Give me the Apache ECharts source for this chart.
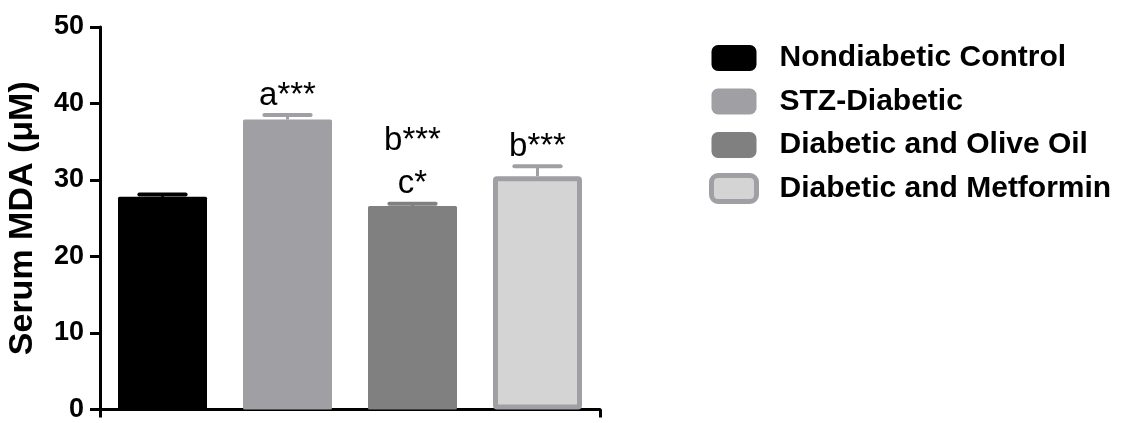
<!DOCTYPE html>
<html>
<head>
<meta charset="utf-8">
<script src="https://cdn.jsdelivr.net/npm/echarts@6/dist/echarts.min.js"></script>
<style>
  html, body { margin: 0; padding: 0; background: #ffffff; }
  #chart { width: 1124px; height: 423px; }
</style>
</head>
<body>
<div id="chart"></div>
<script>
// ---- data ----
const groups = ['Nondiabetic Control', 'STZ-Diabetic', 'Diabetic and Olive Oil', 'Diabetic and Metformin'];
const means = [27.8, 37.9, 26.6, 30.5];
const sems = [0.3, 0.6, 0.3, 1.3];
const sigLabels = ['', 'a***', 'b***\nc*', 'b***'];
const yMin = 0, yMax = 50, yStep = 10;
const yTitle = 'Serum MDA (\u03bcM)';

// ---- styles ----
const FONT = 'Arial, "Liberation Sans", Helvetica, sans-serif';
const fills = ['#000000', '#a0a0a4', '#808080', '#d4d4d4'];
const borders = [null, null, null, '#a0a0a4'];
const errColors = ['#000000', '#a0a0a4', '#808080', '#a0a0a4'];

const chart = echarts.init(document.getElementById('chart'), null, { renderer: 'canvas' });

const barSeries = groups.map((g, i) => ({
  type: 'bar',
  name: g,
  barWidth: 89,
  barGap: '-100%',
  data: means.map((m, j) => (j === i ? m : '-')),
  itemStyle: {
    color: fills[i],
    borderColor: borders[i] || fills[i],
    borderWidth: borders[i] ? 5 : 0,
    borderRadius: 1.5
  },
  emphasis: { disabled: true },
  z: 2
}));

const errSeries = {
  type: 'custom',
  name: 'SEM',
  data: means.map((m, i) => [i, m, sems[i]]),
  encode: { x: 0, y: 1 },
  z: 5,
  silent: true,
  renderItem: function (params, api) {
    const idx = params.dataIndex;
    const c = api.value(0), m = api.value(1), e = api.value(2);
    const top = api.coord([c, m + e]);
    const base = api.coord([c, m]);
    const half = api.size([1, 0])[0] * 0.185;
    const col = errColors[idx];
    return {
      type: 'group',
      children: [
        { type: 'line', shape: { x1: top[0], y1: base[1], x2: top[0], y2: top[1] },
          style: { stroke: col, lineWidth: 3 } },
        { type: 'line', shape: { x1: top[0] - half, y1: top[1], x2: top[0] + half, y2: top[1] },
          style: { stroke: col, lineWidth: 4, lineCap: 'round' } },
        { type: 'text', x: top[0], y: top[1] + 2,
          style: { text: sigLabels[idx], fill: '#000000', font: '33px ' + FONT,
                   align: 'center', verticalAlign: 'bottom', lineHeight: 43 } }
      ]
    };
  }
};

const option = {
  backgroundColor: '#ffffff',
  animation: false,
  textStyle: { fontFamily: FONT },
  grid: { left: 100, right: 524, top: 27, bottom: 10, containLabel: false },
  legend: {
    orient: 'vertical',
    left: 704,
    top: 37.5,
    itemWidth: 45,
    itemHeight: 26,
    itemGap: 12.5,
    icon: 'roundRect',
    selectedMode: false,
    data: groups.map((g, i) => ({
      name: g,
      itemStyle: borders[i] ? { borderColor: borders[i], borderWidth: 5 } : { borderWidth: 0 }
    })),
    textStyle: { fontFamily: FONT, fontSize: 30, fontWeight: 'bold', color: '#000000',
                 lineHeight: 31, padding: [0, 0, 0, 18] }
  },
  xAxis: {
    type: 'category',
    data: groups,
    boundaryGap: true,
    axisLine: { show: true, lineStyle: { color: '#000000', width: 3 } },
    axisTick: { show: true, length: 8, lineStyle: { color: '#000000', width: 3 },
                interval: function (index) { return index === 2; } },
    axisLabel: { show: false },
    splitLine: { show: false }
  },
  yAxis: {
    type: 'value',
    min: yMin, max: yMax, interval: yStep,
    name: yTitle,
    nameLocation: 'middle',
    nameGap: 60,
    nameTextStyle: { fontFamily: FONT, fontSize: 34, fontWeight: 'bold', color: '#000000' },
    axisLine: { show: true, lineStyle: { color: '#000000', width: 3 } },
    axisTick: { show: true, inside: false, length: 10, lineStyle: { color: '#000000', width: 3 } },
    axisLabel: { fontFamily: FONT, fontSize: 27, fontWeight: 'bold', color: '#000000', margin: 16 },
    splitLine: { show: false }
  },
  series: barSeries.concat([errSeries])
};

chart.setOption(option);
</script>
</body>
</html>
